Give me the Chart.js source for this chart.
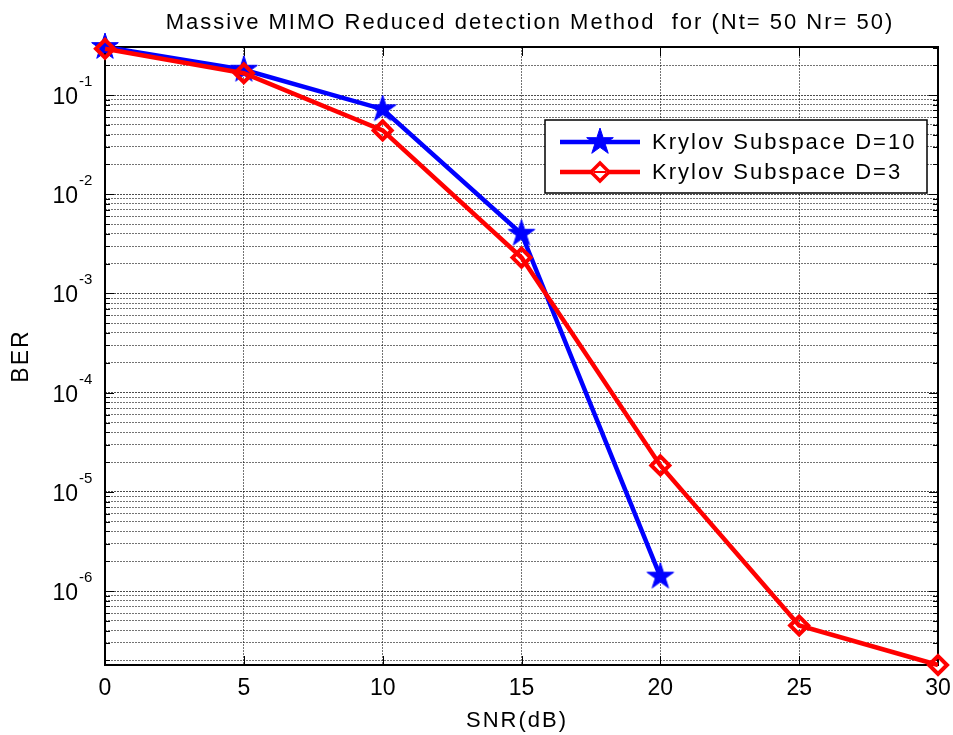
<!DOCTYPE html>
<html>
<head>
<meta charset="utf-8">
<title>Massive MIMO BER</title>
<script src="https://cdn.jsdelivr.net/npm/chart.js@4.4.1/dist/chart.umd.min.js"></script>
<style>
  html, body { margin: 0; padding: 0; background: #fff; overflow: hidden; }
  #wrap { width: 953px; height: 735px; position: relative; }
</style>
</head>
<body>
<div id="wrap"><canvas id="ber"></canvas></div>
<script>
// SNR points (dB) and simulated BER per Krylov depth
const snrDb = [0, 5, 10, 15, 20, 25, 30];
const berD10 = [0.305, 0.18, 0.072, 0.004, 1.4e-6];
const berD3 = [0.293, 0.166, 0.044, 0.0023, 1.85e-5, 4.5e-7, 1.8e-7];

const xTicks = [0, 5, 10, 15, 20, 25, 30];
const xTickLabels = ["0", "5", "10", "15", "20", "25", "30"];
const yDecades = [-1, -2, -3, -4, -5, -6];

const seriesNames = ["Krylov Subspace D=10", "Krylov Subspace D=3"];
const chartTitle = "Massive MIMO Reduced detection Method  for (Nt= 50 Nr= 50)";
const xTitle = "SNR(dB)";
const yTitle = "BER";

const FONT = '"Liberation Sans", Arial, Helvetica, sans-serif';
const BLUE = "#0000ff";
const RED = "#ff0000";

// tight y limits, like `axis tight`
const yMin = Math.min(...berD10, ...berD3);
const yMax = Math.max(...berD10, ...berD3);

function pentagram(r, color) {
  const c = document.createElement("canvas");
  const s = Math.ceil(r * 2 + 4);
  c.width = s;
  c.height = s;
  const g = c.getContext("2d");
  g.translate(s / 2, s / 2);
  g.beginPath();
  for (let i = 0; i < 10; i++) {
    const rad = i % 2 ? r * 0.382 : r;
    const a = -Math.PI / 2 + (i * Math.PI) / 5;
    g.lineTo(Math.cos(a) * rad, Math.sin(a) * rad);
  }
  g.closePath();
  g.fillStyle = color;
  g.fill();
  g.strokeStyle = color;
  g.lineWidth = 1;
  g.stroke();
  return c;
}

const starMarker = pentagram(14, BLUE);

// 1..9 x 10^e ticks inside [min, max]
function logTicks(min, max) {
  const out = [];
  const e0 = Math.floor(Math.log10(min));
  const e1 = Math.ceil(Math.log10(max));
  for (let e = e0; e <= e1; e++) {
    for (let m = 1; m <= 9; m++) {
      const v = m * Math.pow(10, e);
      if (v >= min * 0.9999 && v <= max * 1.0001) out.push({ value: v, major: m === 1 });
    }
  }
  return out;
}

function points(ys) {
  return ys.map((v, i) => ({ x: snrDb[i], y: v }));
}

function drawSpaced(ctx, text, x, y, spacing) {
  ctx.save();
  ctx.letterSpacing = spacing + "px";
  ctx.fillText(text, x, y);
  ctx.restore();
}

const matlabAxes = {
  id: "matlabAxes",
  beforeDatasetsDraw(chart) {
    const { ctx, chartArea: a, scales } = chart;
    const x = scales.x;
    const y = scales.y;
    ctx.save();
    ctx.strokeStyle = "#000";
    ctx.lineWidth = 1;
    ctx.beginPath();
    y.ticks.forEach((t) => {
      const py = Math.round(y.getPixelForValue(t.value)) + 0.5;
      const len = t.major ? 9 : 5;
      ctx.moveTo(a.left, py);
      ctx.lineTo(a.left + len, py);
      ctx.moveTo(a.right, py);
      ctx.lineTo(a.right - len, py);
    });
    xTicks.forEach((v) => {
      const px = Math.round(x.getPixelForValue(v)) + 0.5;
      ctx.moveTo(px, a.bottom);
      ctx.lineTo(px, a.bottom - 9);
      ctx.moveTo(px, a.top);
      ctx.lineTo(px, a.top + 9);
    });
    ctx.stroke();
    ctx.lineWidth = 2;
    ctx.strokeRect(a.left, a.top, a.right - a.left, a.bottom - a.top);
    ctx.restore();
  },
  afterDraw(chart) {
    const { ctx, chartArea: a, scales } = chart;
    const x = scales.x;
    const y = scales.y;
    ctx.save();
    ctx.fillStyle = "#000";

    // x tick labels
    ctx.font = "23px " + FONT;
    ctx.textAlign = "center";
    ctx.textBaseline = "alphabetic";
    xTicks.forEach((v, i) => ctx.fillText(xTickLabels[i], x.getPixelForValue(v), 695));

    // y tick labels as 10^e
    yDecades.forEach((e) => {
      const py = y.getPixelForValue(Math.pow(10, e));
      ctx.font = "23px " + FONT;
      ctx.textAlign = "right";
      ctx.fillText("10", 78, py + 9);
      ctx.font = "15px " + FONT;
      ctx.textAlign = "left";
      ctx.fillText(String(e), 79, py - 9);
    });

    // title and axis labels
    ctx.textAlign = "center";
    ctx.font = "22px " + FONT;
    drawSpaced(ctx, chartTitle, 530, 29, 2);
    ctx.font = "22px " + FONT;
    drawSpaced(ctx, xTitle, 517, 727, 2);
    ctx.save();
    ctx.translate(22, (a.top + a.bottom) / 2);
    ctx.rotate(-Math.PI / 2);
    ctx.textBaseline = "middle";
    ctx.font = "23px " + FONT;
    drawSpaced(ctx, yTitle, 0, 0, 2);
    ctx.restore();

    // legend box
    const box = { left: 545, top: 120, right: 927, bottom: 193 };
    ctx.fillStyle = "#fff";
    ctx.fillRect(box.left, box.top, box.right - box.left, box.bottom - box.top);
    ctx.strokeStyle = "#000";
    ctx.lineWidth = 1.5;
    ctx.strokeRect(box.left, box.top, box.right - box.left, box.bottom - box.top);

    const rows = [
      { name: seriesNames[0], color: BLUE, y: 142, marker: "star" },
      { name: seriesNames[1], color: RED, y: 172, marker: "diamond" },
    ];
    rows.forEach((r) => {
      ctx.strokeStyle = r.color;
      ctx.lineWidth = 4.5;
      ctx.beginPath();
      ctx.moveTo(560, r.y);
      ctx.lineTo(640, r.y);
      ctx.stroke();
      if (r.marker === "star") {
        ctx.drawImage(starMarker, 600 - starMarker.width / 2, r.y - starMarker.height / 2);
      } else {
        ctx.lineWidth = 3.5;
        ctx.beginPath();
        ctx.moveTo(600, r.y - 9);
        ctx.lineTo(609, r.y);
        ctx.lineTo(600, r.y + 9);
        ctx.lineTo(591, r.y);
        ctx.closePath();
        ctx.fillStyle = "#fff";
        ctx.fill();
        ctx.stroke();
        ctx.lineWidth = 2;
        ctx.beginPath();
        ctx.moveTo(594, r.y);
        ctx.lineTo(606, r.y);
        ctx.stroke();
      }
      ctx.fillStyle = "#000";
      ctx.font = "22px " + FONT;
      ctx.textAlign = "left";
      ctx.textBaseline = "middle";
      drawSpaced(ctx, r.name, 652, r.y + 1, 2);
    });
    ctx.restore();
  },
};

const gridColor = "rgba(0,0,0,0.55)";

new Chart(document.getElementById("ber"), {
  type: "line",
  data: {
    datasets: [
      {
        label: seriesNames[0],
        data: points(berD10),
        borderColor: BLUE,
        backgroundColor: BLUE,
        borderWidth: 4.5,
        pointStyle: starMarker,
        pointRadius: 14,
        tension: 0,
        fill: false,
        clip: false,
        order: 1,
      },
      {
        label: seriesNames[1],
        data: points(berD3),
        borderColor: RED,
        backgroundColor: "rgba(0,0,0,0)",
        borderWidth: 4.5,
        pointStyle: "rectRot",
        pointRadius: 9,
        pointBorderWidth: 4,
        pointBorderColor: RED,
        pointBackgroundColor: "rgba(0,0,0,0)",
        tension: 0,
        fill: false,
        clip: false,
        order: 0,
      },
    ],
  },
  options: {
    responsive: true,
    maintainAspectRatio: false,
    animation: false,
    events: [],
    layout: {
      autoPadding: false,
      padding: { left: 105, top: 47, right: 15, bottom: 70 },
    },
    plugins: {
      legend: { display: false },
      tooltip: { enabled: false },
      title: { display: false },
    },
    scales: {
      x: {
        type: "linear",
        min: 0,
        max: 30,
        ticks: { display: false, stepSize: 5 },
        grid: { color: gridColor, lineWidth: 1, drawTicks: false },
        border: { display: false, dash: [2, 1] },
      },
      y: {
        type: "logarithmic",
        min: yMin,
        max: yMax,
        afterBuildTicks: (scale) => {
          scale.ticks = logTicks(yMin, yMax);
        },
        ticks: { display: false },
        grid: {
          color: (c) => (c.tick && c.tick.major ? "rgba(0,0,0,0.7)" : gridColor),
          lineWidth: 1,
          drawTicks: false,
        },
        border: { display: false, dash: [2, 1] },
      },
    },
  },
  plugins: [matlabAxes],
});
</script>
</body>
</html>
